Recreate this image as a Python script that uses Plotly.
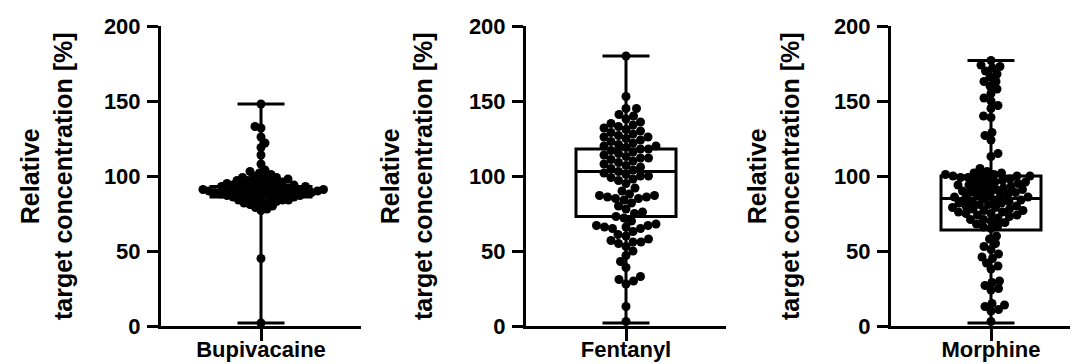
import numpy as np
import plotly.graph_objects as go

# ---------------- data ----------------
groups = ["Bupivacaine", "Fentanyl", "Morphine"]

bupivacaine = [148, 133, 132, 126, 122, 119, 114, 108, 104, 103, 102, 101, 100, 100, 99, 99,
               98, 98, 97, 97, 97, 96, 96, 96, 95, 95, 95, 94, 94, 94, 93, 93, 93, 93,
               92, 92, 92, 92, 92, 91, 91, 91, 91, 91, 90, 90, 90, 90, 90, 90,
               89, 89, 89, 89, 89, 88, 88, 88, 88, 88, 87, 87, 87, 87, 86, 86, 86,
               85, 85, 85, 84, 84, 84, 83, 83, 82, 82, 81, 81, 80, 79, 78, 77, 45, 2]

fentanyl = [180, 153, 145, 145, 141, 140, 138, 136, 135, 134, 133, 132, 131, 130, 129,
            128, 127, 126, 126, 125, 124, 123, 122, 121, 120, 120, 119, 118, 118, 117,
            116, 115, 114, 113, 112, 112, 111, 110, 109, 108, 107, 106, 105, 104, 103,
            102, 101, 100, 100, 99, 98, 97, 95, 92, 90, 88, 87, 87, 86, 86, 85, 85, 84,
            82, 80, 78, 76, 75, 73, 72, 70, 68, 67, 67, 66, 66, 65, 65, 63, 61, 60, 58,
            57, 56, 56, 55, 53, 50, 47, 43, 39, 33, 31, 30, 28, 13, 3]

morphine = [177, 174, 173, 172, 170, 168, 166, 163, 163, 160, 158, 155, 152, 150, 147,
            145, 140, 139, 129, 127, 124, 115, 113, 105, 103, 102, 102, 101, 101, 100, 100,
            100, 100, 99, 99, 98, 98, 97, 97, 96, 96, 95, 95, 94, 94, 93, 93,
            92, 92, 91, 91, 90, 90, 89, 89, 88, 88, 87, 87, 86, 86, 85, 85,
            84, 84, 83, 83, 82, 82, 81, 81, 80, 80, 79, 79, 78, 78, 77, 77, 76, 76, 75, 75,
            74, 74, 73, 72, 71, 71, 70, 69, 68, 67, 66, 65,
            60, 58, 55, 53, 51, 48, 46, 45, 42, 40, 38, 30, 29, 27, 25, 24, 15, 14,
            13, 11, 10, 3]

series = [bupivacaine, fentanyl, morphine]

# box statistics: Q1, median, Q3, min, max
q1_vals = [86, 73, 64]
median_vals = [90, 103, 85]
q3_vals = [93, 118, 100]
min_vals = [2, 2, 2]
max_vals = [148, 180, 177]

y_ticks = [0, 50, 100, 150, 200]

# ---------------- layout geometry ----------------
W, H = 1078, 364
M_T, M_B = 18, 46
PLOT_H = H - M_T - M_B
Y_RANGE = [0, 200]
PX_PER_Y = PLOT_H / (Y_RANGE[1] - Y_RANGE[0])
axis_left_px = [153, 518, 883]
axis_len_px = [200, 200, 195]
PX_PER_X = 100.0          # 200 px for x range [-1, 1]
title_center_px = [38, 398, 765]

DOT = 9
COLLIDE = [6.0, 8.0, 7.5]


def swarm_offsets(values, collide):
    """Simple beeswarm: place each point (sorted) at smallest |x| without overlap."""
    order = np.argsort(values)
    placed = []
    offs = np.zeros(len(values))
    steps = np.arange(0, 80, 0.5)
    flip = 1
    for idx in order:
        y = values[idx] * PX_PER_Y
        near = [(px, py) for px, py in placed if abs(py - y) < collide]
        chosen = 0.0
        for s in steps:
            cands = [0.0] if s == 0 else [flip * s, -flip * s]
            ok = None
            for c in cands:
                if all((c - px) ** 2 + (y - py) ** 2 >= collide ** 2 for px, py in near):
                    ok = c
                    break
            if ok is not None:
                chosen = ok
                break
        if chosen != 0:
            flip = -flip
        placed.append((chosen, y))
        offs[idx] = chosen
    return offs / PX_PER_X


fig = go.Figure()
font_family = "Liberation Sans, Arial, sans-serif"

for i, (name, vals) in enumerate(zip(groups, series)):
    xa = "x" if i == 0 else f"x{i+1}"
    ya = "y" if i == 0 else f"y{i+1}"
    fig.add_trace(go.Box(
        x=[0], q1=[q1_vals[i]], median=[median_vals[i]], q3=[q3_vals[i]],
        lowerfence=[min_vals[i]], upperfence=[max_vals[i]],
        width=1.0, whiskerwidth=0.47,
        line=dict(color="black", width=3), fillcolor="rgba(255,255,255,0)",
        boxpoints=False, showlegend=False, hoverinfo="skip",
        xaxis=xa, yaxis=ya,
    ))
    v = np.array(vals, dtype=float)
    fig.add_trace(go.Scatter(
        x=swarm_offsets(v, COLLIDE[i]), y=v, mode="markers",
        marker=dict(color="black", size=DOT, line=dict(width=0)),
        showlegend=False, cliponaxis=False, xaxis=xa, yaxis=ya,
    ))

layout = dict(
    width=W, height=H,
    margin=dict(l=0, r=0, t=M_T, b=M_B),
    paper_bgcolor="white", plot_bgcolor="white",
    font=dict(family=font_family, color="black"),
    annotations=[],
)

tickfont = dict(family=font_family, size=22, weight="bold", color="black")
for i in range(3):
    sfx = "" if i == 0 else str(i + 1)
    x0 = axis_left_px[i] / W
    x1 = (axis_left_px[i] + axis_len_px[i]) / W
    xr_max = -1 + axis_len_px[i] / PX_PER_X
    layout["xaxis" + sfx] = dict(
        domain=[x0, min(x1, 1.0)], range=[-1, xr_max], anchor="y" + sfx,
        showline=True, linecolor="black", linewidth=3,
        ticks="outside", ticklen=12, tickwidth=3, tickcolor="black",
        tickvals=[0], ticktext=[groups[i]], tickfont=tickfont,
        ticklabelstandoff=-10,
        showgrid=False, zeroline=False, fixedrange=True,
    )
    layout["yaxis" + sfx] = dict(
        domain=[0, 1], range=Y_RANGE, anchor="x" + sfx,
        showline=True, linecolor="black", linewidth=3,
        ticks="outside", ticklen=11, tickwidth=3, tickcolor="black",
        tickvals=y_ticks, tickfont=tickfont, ticklabelstandoff=2,
        showgrid=False, zeroline=False, fixedrange=True,
    )
    layout["annotations"].append(dict(
        xref="paper", yref="paper", x=title_center_px[i] / W, y=0.5,
        xanchor="center", yanchor="middle", textangle=-90, showarrow=False,
        text="Relative<br>target concentration [%]",
        font=dict(family=font_family, size=25, weight="bold", color="black"),
    ))

fig.update_layout(**layout)
fig.write_html("out.html")
